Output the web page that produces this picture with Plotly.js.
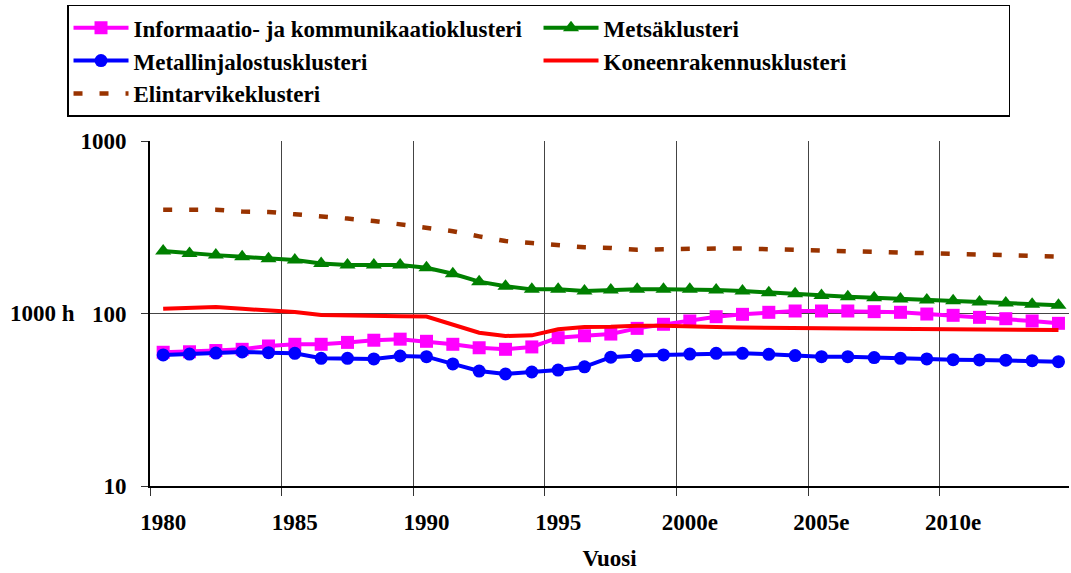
<!DOCTYPE html>
<html>
<head>
<meta charset="utf-8">
<script src="https://cdn.plot.ly/plotly-3.0.1.min.js"></script>
<style>html,body{margin:0;padding:0;background:#fff;}#chart{width:1071px;height:573px;}</style>
</head>
<body>
<div id="chart"></div>
<script>
const years = [1980,1981,1982,1983,1984,1985,1986,1987,1988,1989,1990,1991,1992,1993,1994,1995,1996,1997,1998,1999,2000,2001,2002,2003,2004,2005,2006,2007,2008,2009,2010,2011,2012,2013,2014];
const tickYears = [1980,1985,1990,1995,2000,2005,2010];
const tickLabels = ["1980","1985","1990","1995","2000e","2005e","2010e"];
const gridBounds = [1979.5,1984.5,1989.5,1994.5,1999.5,2004.5,2009.5];

const seriesNames = ["Informaatio- ja kommunikaatioklusteri","Metsäklusteri","Metallinjalostusklusteri","Koneenrakennusklusteri","Elintarvikeklusteri"];

const info   = [59.6,60,61,62,64.8,66.3,66.3,68,70,71,69,66.3,63.3,62,64,72.4,74.3,76,82,86.6,90.5,95.8,98.9,101.6,103.4,103.4,103.4,102.5,101.6,99.3,97.6,95,93.3,90.5,87.7];
const metsa  = [230,223,218,213,208,204,195,191,191,191,184,170,153,144,138,138,135,137,138,138,138,137,135,132,130,127,125,123.5,121.4,119.7,118.6,116.6,115,113,111.5];
const metalli= [57.5,58.2,59,59.8,59.3,58.8,55,55,54.5,56.7,56.2,51,46.4,44.6,45.8,47,49.1,55.8,57,57.5,58.2,58.8,58.8,58,57,56.2,56.2,55.5,55,54.5,54,53.8,53.6,53.3,52.6];
const kone   = [106.6,107.8,109,106.5,104,102,98,97,96.3,96.3,96,86,77.4,74.1,74.7,81,83.5,83.8,85,85,83.8,83.4,83,82.4,82.2,82,81.8,81.6,81.4,81.2,81,80.8,80.6,80.4,80.2];
const elin   = [400,400,400,390,388,376,368,355,344,329,318,300,280,263,256,248,242,240,234,236,238,238,238,236,235,231,229,229,226,224,222,220,218,217,214];

const yTicks = [10,100,1000];
const yLabels = ["10","100","1000"];

const FONT = "Liberation Serif, Times New Roman, serif";
const FS = 23;
const f = () => ({family: FONT, size: FS, color: '#000', weight: 'bold'});

const traces = [
  {x: years, y: info, name: seriesNames[0], mode: 'lines+markers',
   line: {color: '#FF00FF', width: 4}, marker: {symbol: 'square', size: 13, color: '#FF00FF'}},
  {x: years, y: metsa, name: seriesNames[1], mode: 'lines+markers',
   line: {color: '#008000', width: 4}, marker: {symbol: 'triangle-up', size: 14, color: '#008000'}},
  {x: years, y: metalli, name: seriesNames[2], mode: 'lines+markers',
   line: {color: '#0000FF', width: 4}, marker: {symbol: 'circle', size: 13, color: '#0000FF'}},
  {x: years, y: kone, name: seriesNames[3], mode: 'lines',
   line: {color: '#FF0000', width: 4}},
  {x: years, y: elin, name: seriesNames[4], mode: 'lines',
   line: {color: '#993300', width: 4.5, dash: '9px,17px'}}
];

const layout = {
  width: 1071, height: 573,
  margin: {l: 150, r: 2, t: 141, b: 87, autoexpand: false},
  paper_bgcolor: '#fff', plot_bgcolor: '#fff',
  font: f(),
  showlegend: true,
  legend: {
    orientation: 'h', xref: 'paper', yref: 'paper',
    x: -0.0903, y: 1.395, xanchor: 'left', yanchor: 'top',
    entrywidth: 400, entrywidthmode: 'pixels', itemwidth: 55,
    bgcolor: '#fff', bordercolor: '#000', borderwidth: 1.5,
    font: f(),
    traceorder: 'normal'
  },
  xaxis: {
    type: 'linear', range: [1979.5, 2014.4],
    tickmode: 'array', tickvals: tickYears, ticktext: tickLabels,
    ticks: '', showgrid: false, zeroline: false,
    showline: true, linecolor: '#000', linewidth: 2,
    ticklabelstandoff: 14,
    tickfont: f(),
    minor: {tickmode: 'array', tickvals: gridBounds, ticks: 'outside', ticklen: 8, tickcolor: '#333', tickwidth: 1,
            showgrid: true, gridcolor: '#444', gridwidth: 1},
    title: {text: 'Vuosi', font: f(), standoff: 16}
  },
  yaxis: {
    type: 'log', range: [1, 3],
    tickmode: 'array', tickvals: yTicks, ticktext: yLabels,
    ticks: 'outside', ticklen: 7, tickcolor: '#333',
    showgrid: true, gridcolor: '#444', gridwidth: 1,
    zeroline: false, showline: true, linecolor: '#000', linewidth: 2,
    ticklabelstandoff: 10,
    tickfont: f()
  },
  annotations: [
    {text: '1000 h', xref: 'paper', yref: 'paper', x: -0.154, y: 0.5, xanchor: 'left', yanchor: 'middle',
     showarrow: false, font: f()}
  ]
};

Plotly.newPlot('chart', traces, layout, {displayModeBar: false, staticPlot: true});
</script>
</body>
</html>
